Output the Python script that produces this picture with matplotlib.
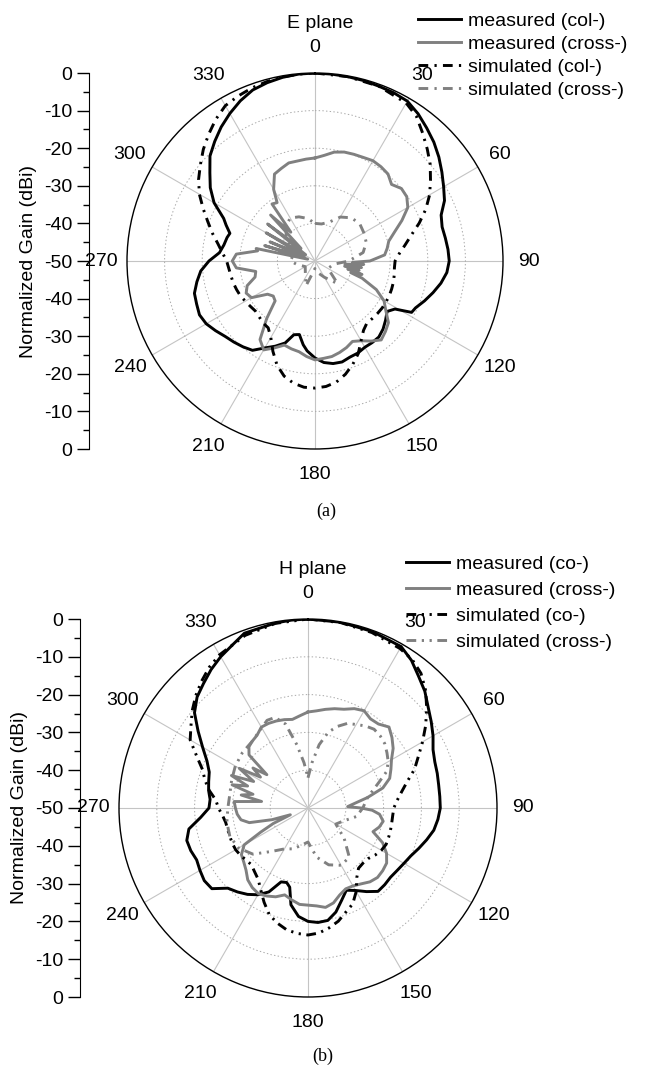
import numpy as np
import matplotlib.pyplot as plt
from matplotlib.lines import Line2D

plt.rcParams['font.family'] = ['Liberation Sans', 'DejaVu Sans']
plt.rcParams['lines.scale_dashes'] = False

# ---------------- E plane (a) ----------------
e_co_ang = [0, 5, 10, 15, 20, 25, 30, 35, 40, 45, 50, 55, 60, 65, 70, 75, 80, 85, 90, 95,
            100, 105, 110, 115, 118, 121, 125, 130, 135, 140, 145, 150, 155, 160, 165, 170,
            175, 180, 185, 188, 192, 196, 200, 205, 210, 215, 220, 225, 230, 235, 240, 245,
            250, 255, 260, 265, 270, 275, 280, 285, 288, 292, 295, 300, 305, 310, 315, 320,
            325, 330, 335, 340, 345, 350, 355]
e_co_db = [0, -0.1, -0.2, -0.3, -0.5, -0.6, -0.9, -2.2, -3.8, -5.3, -7.0, -8.8, -10.5, -12.0,
           -14.3, -15.0, -14.8, -14.5, -14.3, -14.8, -16.0, -17.5, -19.0, -20.5, -20.9, -25.2,
           -26.6, -25.5, -24.4, -23.6, -23.5, -23.5, -23.0, -22.8, -22.2, -22.3, -22.9, -24.2,
           -26.0, -27.5, -30.0, -29.6, -26.8, -25.0, -23.3, -21.0, -20.2, -19.5, -18.8, -17.7,
           -16.6, -16.1, -16.5, -16.8, -18.1, -19.5, -21.8, -24.5, -25.4, -25.8, -26.2, -24.5,
           -23.2, -19.0, -16.0, -13.5, -10.5, -8.5, -6.5, -4.7, -3.0, -1.6, -0.9, -0.4, -0.1]

e_xm_ang = [0, 5, 10, 15, 20, 25, 30, 35, 40, 45, 50, 55, 60, 65, 70, 75, 80, 85, 90, 92,
            94, 96, 98, 100, 102, 104, 106, 108, 110, 115, 120, 125, 130, 135, 140, 145, 150,
            155, 160, 165, 170, 175, 180, 185, 190, 195, 200, 205, 210, 215, 220, 225, 230,
            235, 240, 245, 250, 255, 260, 265, 270, 275, 280, 282, 284, 287, 290, 293, 296,
            300, 304, 308, 312, 316, 320, 323, 327, 330, 335, 340, 345, 350, 355]
e_xm_db = [-22.6, -21.8, -20.6, -20.0, -19.8, -19.6, -19.2, -19.4, -19.8, -21.2, -20.0, -20.2,
           -21.5, -24.5, -27.5, -29.7, -30.5, -31.4, -35.4, -40.0, -37.0, -42.0, -37.5, -42.0,
           -38.0, -41.0, -37.0, -40.0, -36.7, -32.0, -28.8, -27.0, -24.5, -23.5, -22.6, -24.0,
           -25.5, -26.4, -25.5, -24.8, -24.2, -24.0, -23.7, -24.5, -25.5, -25.8, -26.2, -24.5,
           -22.7, -24.5, -30.0, -35.0, -35.5, -34.6, -30.5, -29.8, -30.8, -33.5, -34.0, -29.0,
           -28.0, -29.0, -34.5, -34.0, -48.0, -36.0, -47.0, -37.0, -46.0, -35.0, -47.0, -34.0,
           -45.0, -33.0, -40.0, -31.0, -31.5, -28.0, -24.5, -23.8, -23.0, -23.0, -22.8]

e_cs_ang = [0, 10, 20, 30, 35, 40, 45, 50, 55, 60, 65, 70, 75, 80, 85, 90, 95, 100, 105, 110,
            115, 120, 125, 130, 135, 140, 145, 150, 155, 160, 165, 170, 175, 180, 185, 190,
            195, 200, 205, 210, 215, 220, 225, 230, 235, 240, 245, 250, 255, 260, 265, 270,
            275, 280, 285, 290, 295, 300, 305, 310, 315, 320, 325, 330, 335, 340, 345, 350, 355]
e_cs_db = [0, -0.2, -0.5, -1.5, -3.0, -5.5, -7.8, -10.0, -12.5, -14.8, -17.5, -20.5, -23.5,
           -25.7, -27.5, -28.7, -28.8, -28.6, -28.4, -28.3, -28.2, -28.2, -28.2, -28.3, -28.4,
           -28.5, -27.5, -25.5, -22.8, -20.7, -18.8, -17.3, -16.5, -16.2, -16.3, -17.0, -18.3,
           -20.5, -23.5, -26.5, -28.3, -28.5, -29.0, -29.3, -29.0, -28.6, -28.1, -27.8, -27.5,
           -27.3, -27.0, -26.5, -25.3, -23.8, -21.8, -19.7, -17.2, -14.5, -12.2, -10.2, -8.0,
           -6.0, -4.0, -2.3, -1.6, -1.0, -0.6, -0.3, -0.1]

e_xs_ang = [0, 10, 20, 30, 40, 50, 60, 70, 80, 90, 100, 120, 135, 150, 170, 180, 200, 220,
            240, 260, 270, 290, 310, 320, 330, 340, 350]
e_xs_db = [-40.0, -40.0, -39.0, -36.5, -35.0, -34.5, -35.0, -35.5, -37.0, -41.0, -45.0, -46.0,
           -41.5, -45.0, -47.0, -48.0, -43.0, -46.0, -47.0, -45.0, -43.5, -44.0, -40.0, -38.0,
           -36.8, -37.5, -38.5]

# ---------------- H plane (b) ----------------
h_co_ang = [0, 10, 20, 30, 35, 40, 45, 50, 55, 60, 65, 70, 75, 80, 85, 90, 95, 100, 105, 110,
            115, 120, 125, 130, 135, 140, 145, 150, 155, 160, 165, 170, 175, 180, 185, 190,
            193, 196, 200, 205, 210, 215, 220, 225, 230, 235, 240, 245, 250, 255, 260, 265,
            270, 275, 280, 285, 290, 295, 300, 305, 310, 315, 320, 325, 330, 335, 340, 350, 355]
h_co_db = [0, -0.1, -0.3, -0.7, -2.3, -4.5, -6.3, -8.5, -10.2, -11.8, -13.5, -14.3, -14.6,
           -14.9, -15.0, -15.0, -15.5, -16.2, -17.5, -18.8, -20.0, -20.7, -21.2, -21.5, -21.3,
           -21.2, -23.0, -24.8, -26.0, -24.0, -21.5, -19.8, -19.6, -20.0, -21.2, -24.0, -28.5,
           -29.5, -29.2, -25.5, -23.5, -22.1, -21.0, -20.0, -16.8, -16.5, -17.0, -17.5, -17.0,
           -16.8, -18.0, -21.5, -23.8, -24.0, -23.3, -22.8, -22.2, -20.5, -17.8, -14.5, -10.8,
           -8.5, -7.0, -5.3, -3.8, -2.5, -0.8, -0.3, -0.1]

h_xm_ang = [0, 5, 10, 15, 20, 25, 30, 35, 40, 45, 50, 55, 60, 65, 70, 75, 80, 85, 88, 90, 92,
            95, 100, 105, 110, 115, 120, 125, 130, 135, 140, 145, 150, 155, 160, 165, 170, 175,
            180, 185, 190, 195, 200, 205, 210, 215, 220, 225, 230, 235, 240, 243, 246, 249,
            252, 256, 260, 265, 270, 275, 278, 281, 284, 287, 290, 293, 296, 300, 303, 306,
            309, 312, 316, 320, 325, 330, 335, 340, 345, 350, 355]
h_xm_db = [-24.6, -24.2, -23.5, -22.8, -22.2, -21.0, -20.3, -21.2, -21.0, -19.7, -21.0, -22.5,
           -24.5, -25.8, -27.0, -29.5, -34.0, -38.0, -39.5, -36.0, -33.0, -31.0, -29.8, -30.5,
           -31.7, -28.2, -26.0, -24.6, -24.2, -24.0, -24.5, -25.5, -26.2, -26.4, -25.5, -24.0,
           -23.3, -24.0, -24.3, -24.4, -25.3, -26.2, -25.0, -24.3, -23.8, -24.3, -25.2, -26.8,
           -27.8, -28.5, -30.5, -36.0, -40.0, -45.0, -40.0, -34.0, -32.0, -31.2, -30.8, -30.4,
           -37.6, -32.0, -35.0, -29.0, -33.0, -28.0, -34.0, -29.0, -35.0, -32.0, -36.0, -29.0,
           -27.5, -27.0, -26.5, -25.3, -25.3, -25.5, -25.8, -26.2, -25.5]

h_cs_ang = [0, 10, 20, 30, 35, 40, 45, 50, 55, 60, 65, 70, 75, 80, 85, 90, 95, 100, 105, 110,
            115, 120, 125, 130, 135, 140, 145, 150, 155, 160, 165, 170, 175, 180, 185, 190,
            195, 200, 205, 210, 215, 220, 225, 230, 235, 240, 245, 250, 255, 260, 265, 270,
            275, 280, 285, 290, 295, 300, 305, 310, 315, 320, 325, 330, 340, 350]
h_cs_db = [0, -0.2, -0.6, -1.3, -2.0, -3.5, -6.0, -9.0, -12.0, -15.0, -17.8, -20.0, -22.8,
           -24.8, -26.3, -27.3, -27.5, -27.5, -27.4, -27.3, -27.2, -27.6, -28.3, -29.2, -29.4,
           -29.2, -27.5, -24.5, -22.0, -20.7, -19.0, -17.8, -16.8, -16.4, -16.7, -17.3, -18.5,
           -20.0, -22.5, -25.0, -27.0, -28.0, -28.8, -28.6, -28.2, -27.9, -27.9, -28.0, -28.0,
           -27.9, -27.3, -26.3, -25.5, -23.5, -21.8, -20.3, -17.5, -14.0, -12.2, -10.0, -8.0,
           -6.2, -4.5, -3.2, -1.4, -0.4]

h_xs_ang = [0, 5, 10, 15, 20, 25, 30, 35, 40, 45, 50, 55, 60, 65, 70, 80, 90, 100, 110, 120,
            130, 140, 150, 160, 170, 180, 190, 200, 210, 220, 230, 240, 250, 260, 270, 280,
            290, 300, 310, 320, 330, 335, 340, 345, 350, 355]
h_xs_db = [-42.0, -38.0, -33.0, -29.2, -27.0, -25.3, -24.5, -23.5, -22.8, -23.0, -23.5, -24.5,
           -25.5, -27.0, -30.0, -34.0, -35.5, -37.0, -40.0, -41.5, -37.5, -33.0, -32.5, -34.0,
           -36.8, -41.0, -40.0, -38.5, -37.5, -35.0, -31.0, -28.8, -28.0, -28.2, -28.8, -29.0,
           -28.5, -27.8, -27.3, -27.0, -25.5, -24.4, -24.5, -27.0, -33.0, -38.0]

e_labels = ['measured (col-)', 'measured (cross-)', 'simulated (col-)', 'simulated (cross-)']
h_labels = ['measured (co-)', 'measured (cross-)', 'simulated (co-)', 'simulated (cross-)']
theta_ticks = list(range(0, 360, 30))
gain_ticks = list(range(0, 101, 10))

GREY = '#808080'
DASHDOT = (0, (7, 4.5, 1.6, 4.5))
DASHDOTDOT = (0, (7, 4, 1.6, 4, 1.6, 4))

W, H = 649, 1068
fig = plt.figure(figsize=(W / 100, H / 100), dpi=100)


def rect(l, t, w, h):
    return [l / W, 1 - (t + h) / H, w / W, h / H]


def closed(ang, db):
    a = np.deg2rad(np.append(ang, ang[0]))
    return a, np.append(db, db[0])


def panel(cx, cy, R, spine_x, title, curves, sim_style, labels, leg_xy, leg_sp,
          cap_text, cap_xy):
    ax = fig.add_axes(rect(cx - R, cy - R, 2 * R, 2 * R), projection='polar')
    ax.set_theta_zero_location('N')
    ax.set_theta_direction(-1)
    ax.set_ylim(-50, 0)
    ax.set_yticks([-40, -30, -20, -10])
    ax.set_yticklabels([])
    ax.set_thetagrids(theta_ticks, [str(t) for t in theta_ticks], fontsize=14)
    ax.set_xticks(np.deg2rad(np.arange(15, 360, 30)), minor=True)
    ax.tick_params(axis='x', which='major', pad=11.5, length=0)
    ax.tick_params(axis='x', which='minor', direction='in', length=5, width=0.9)
    ax.xaxis.grid(True, which='major', color='#c4c4c4', lw=0.8, ls='-')
    ax.yaxis.grid(True, color='#a8a8a8', lw=0.7, ls=':')
    ax.set_axisbelow(True)
    ax.spines['polar'].set_linewidth(1.0)

    styles = [dict(color='black', ls='-'), dict(color=GREY, ls='-'),
              dict(color='black', ls=sim_style), dict(color=GREY, ls=sim_style)]
    handles = []
    for (ang, db), st in zip(curves, styles):
        t, r = closed(ang, db)
        ax.plot(t, r, lw=2.1, **st)
        handles.append(Line2D([], [], lw=2.1, **st))

    fig.legend(handles, labels, loc='upper left', bbox_to_anchor=leg_xy, frameon=False,
               fontsize=14, handlelength=2.2, handletextpad=0.35, labelspacing=leg_sp,
               borderaxespad=0, borderpad=0)
    fig.text((cx + 5) / W, 1 - (cy - R - 50) / H, title, ha='center', va='center', fontsize=14)

    # linear gain scale on the left
    lax = fig.add_axes(rect(spine_x, cy - R, 0.5, 2 * R))
    lax.set_ylim(0, 100)
    lax.set_yticks(gain_ticks)
    lax.set_yticklabels([str(-(50 - abs(v - 50))) if v not in (0, 100) else '0'
                         for v in gain_ticks], fontsize=14)
    lax.set_yticks(range(5, 100, 10), minor=True)
    lax.tick_params(axis='y', which='major', length=9, width=1, pad=3)
    lax.tick_params(axis='y', which='minor', length=4.5, width=1)
    lax.set_xticks([])
    for s in ('top', 'right', 'bottom'):
        lax.spines[s].set_visible(False)
    lax.patch.set_alpha(0)
    fig.text((spine_x - 60) / W, 1 - cy / H, 'Normalized Gain (dBi)', rotation=90,
             ha='center', va='center', fontsize=14)
    fig.text(cap_xy[0] / W, 1 - cap_xy[1] / H, cap_text,
             ha='center', va='center', fontsize=13, family='Liberation Serif')


panel(315, 261, 188, 89, 'E plane',
      [(e_co_ang, e_co_db), (e_xm_ang, e_xm_db), (e_cs_ang, e_cs_db), (e_xs_ang, e_xs_db)],
      DASHDOT, e_labels, (418 / W, 1 - 12 / H), 0.28, '(a)', (326, 511))
panel(308, 808, 189, 80, 'H plane',
      [(h_co_ang, h_co_db), (h_xm_ang, h_xm_db), (h_cs_ang, h_cs_db), (h_xs_ang, h_xs_db)],
      DASHDOTDOT, h_labels, (406 / W, 1 - 555 / H), 0.43, '(b)', (323, 1056))

fig.savefig('out.png', dpi=100, facecolor='white')
